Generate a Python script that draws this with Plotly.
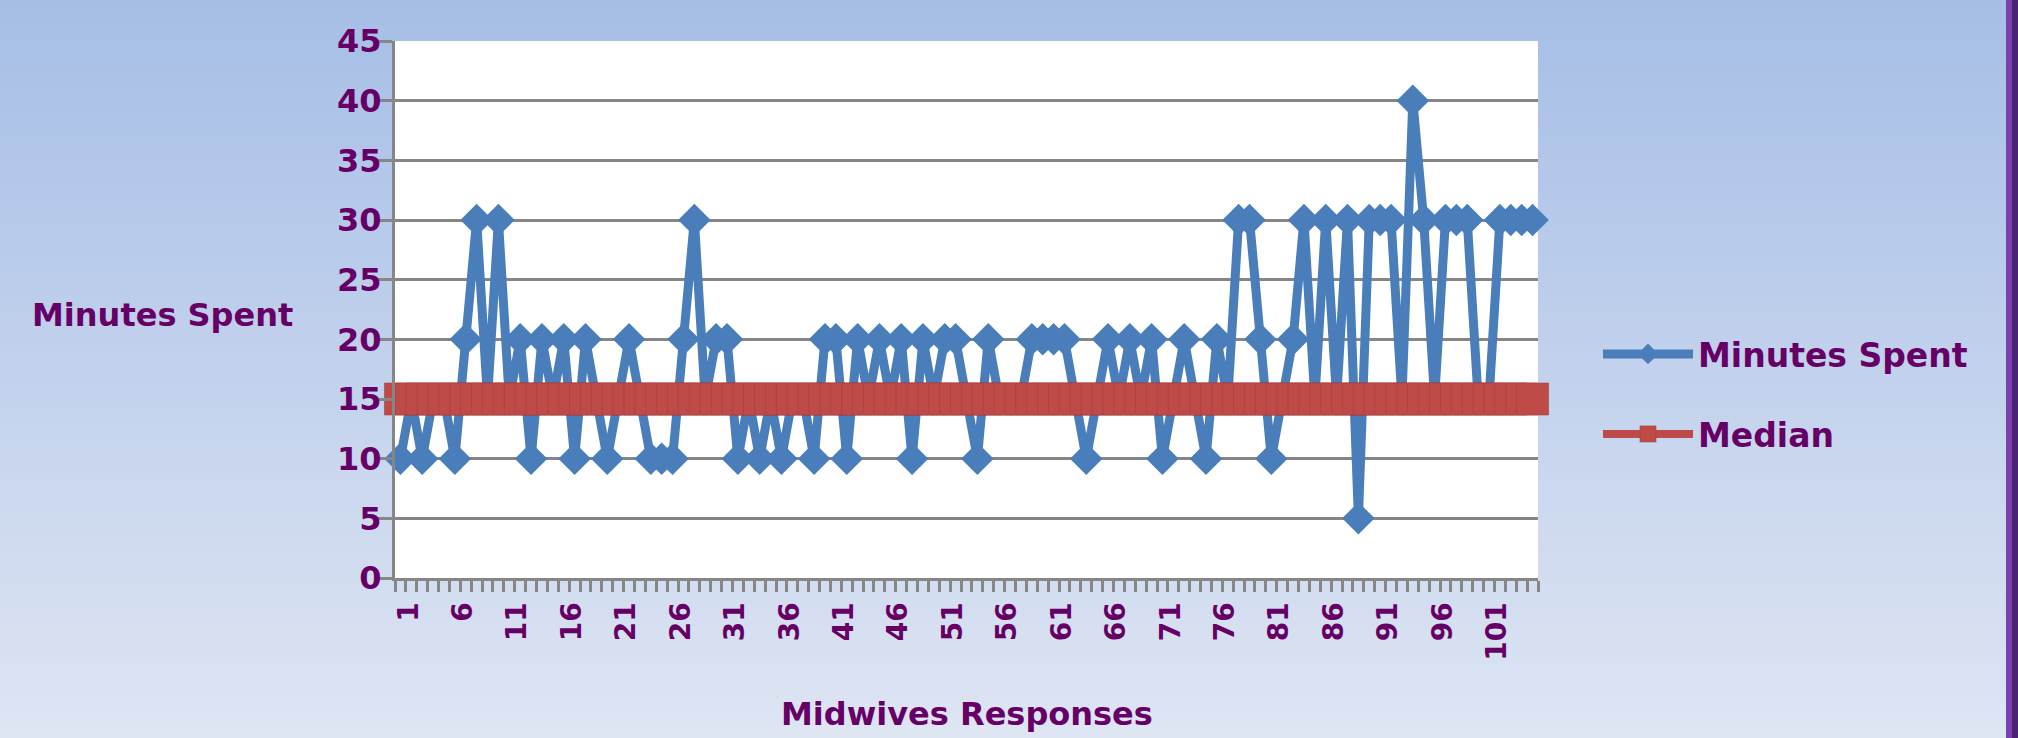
import plotly.graph_objects as go

# ---------------- data ----------------
responses = list(range(1, 106))
minutes_spent = [10, 15, 10, 15, 15, 10, 20, 30, 15, 30,
                 15, 20, 10, 20, 15, 20, 10, 20, 15, 10,
                 15, 20, 15, 10, 10, 10, 20, 30, 15, 20,
                 20, 10, 15, 10, 15, 10, 15, 15, 10, 20,
                 20, 10, 20, 15, 20, 15, 20, 10, 20, 15,
                 20, 20, 15, 10, 20, 15, 15, 15, 20, 20,
                 20, 20, 15, 10, 15, 20, 15, 20, 15, 20,
                 10, 15, 20, 15, 10, 20, 15, 30, 30, 20,
                 10, 15, 20, 30, 15, 30, 15, 30, 5, 30,
                 30, 30, 15, 40, 30, 15, 30, 30, 30, 15,
                 15, 30, 30, 30, 30]
median_value = [15, 15, 15, 15, 15, 15, 15, 15, 15, 15,
                15, 15, 15, 15, 15, 15, 15, 15, 15, 15,
                15, 15, 15, 15, 15, 15, 15, 15, 15, 15,
                15, 15, 15, 15, 15, 15, 15, 15, 15, 15,
                15, 15, 15, 15, 15, 15, 15, 15, 15, 15,
                15, 15, 15, 15, 15, 15, 15, 15, 15, 15,
                15, 15, 15, 15, 15, 15, 15, 15, 15, 15,
                15, 15, 15, 15, 15, 15, 15, 15, 15, 15,
                15, 15, 15, 15, 15, 15, 15, 15, 15, 15,
                15, 15, 15, 15, 15, 15, 15, 15, 15, 15,
                15, 15, 15, 15, 15]
x_tick_vals = [1, 6, 11, 16, 21, 26, 31, 36, 41, 46, 51, 56, 61, 66, 71, 76, 81, 86, 91, 96, 101]
x_tick_text = ["1", "6", "11", "16", "21", "26", "31", "36", "41", "46", "51",
               "56", "61", "66", "71", "76", "81", "86", "91", "96", "101"]

# ---------------- layout constants ----------------
W, H = 2018, 738
ML, MR, MT, MB = 395, 480, 41, 160
PW, PH = W - ML - MR, H - MT - MB


def px_x(px):
    return (px - ML) / PW


def px_y(py):
    return (H - MB - py) / PH


PURPLE = "#660066"
GRID = "#868686"
FONT = "DejaVu Sans"
BLUE = "#4a7ebb"
RED = "#be4b48"

fig = go.Figure()
fig.add_trace(go.Scatter(
    x=responses, y=minutes_spent, mode="lines+markers", name="Minutes Spent",
    line=dict(color=BLUE, width=9),
    marker=dict(symbol="diamond", size=25, color=BLUE),
    legend="legend", cliponaxis=False,
))
fig.add_trace(go.Scatter(
    x=responses, y=median_value, mode="lines+markers", name="Median",
    line=dict(color=RED, width=8),
    marker=dict(symbol="square", size=32, color=RED,
                line=dict(color="rgba(165,60,58,0.55)", width=1)),
    legend="legend2", cliponaxis=False,
))

# background gradient
shapes = []
top = (166, 190, 230)
bot = (222, 229, 243)
N = 60
for i in range(N):
    t = i / (N - 1)
    c = tuple(int(round(top[k] + (bot[k] - top[k]) * t)) for k in range(3))
    y0 = i * H / N
    y1 = (i + 1) * H / N + 1
    shapes.append(dict(type="rect", xref="paper", yref="paper", layer="below",
                       x0=px_x(0), x1=px_x(W), y0=px_y(y1), y1=px_y(y0),
                       line=dict(width=0), fillcolor="rgb(%d,%d,%d)" % c))
# right purple border
shapes.append(dict(type="rect", xref="paper", yref="paper", layer="below",
                   x0=px_x(2006), x1=px_x(2012), y0=px_y(H), y1=px_y(0),
                   line=dict(width=0), fillcolor="#7b3fae"))
shapes.append(dict(type="rect", xref="paper", yref="paper", layer="below",
                   x0=px_x(2012), x1=px_x(W), y0=px_y(H), y1=px_y(0),
                   line=dict(width=0), fillcolor="#4a2272"))
# white plot area
shapes.append(dict(type="rect", xref="x domain", yref="y domain", layer="below",
                   x0=0, x1=1, y0=0, y1=1, line=dict(width=0), fillcolor="white"))

ytickfont = dict(family=FONT, size=32, color=PURPLE, weight="bold")
xtickfont = dict(family=FONT, size=28, color=PURPLE, weight="bold")
legfont = dict(family=FONT, size=33, color=PURPLE, weight="bold")
titlefont = dict(family=FONT, size=32, color=PURPLE, weight="bold")

fig.update_layout(
    width=W, height=H,
    margin=dict(l=ML, r=MR, t=MT, b=MB, autoexpand=False),
    paper_bgcolor="#c4d2ec", plot_bgcolor="white",
    shapes=shapes,
    showlegend=True,
    legend=dict(x=px_x(1598), y=px_y(354), xanchor="left", yanchor="middle",
                bgcolor="rgba(0,0,0,0)", itemwidth=90, font=legfont),
    legend2=dict(x=px_x(1598), y=px_y(434), xanchor="left", yanchor="middle",
                 bgcolor="rgba(0,0,0,0)", itemwidth=90, font=legfont),
    xaxis=dict(
        range=[0.5, 105.5], showgrid=False, zeroline=False,
        showline=True, linecolor=GRID, linewidth=3,
        tickmode="array", tickvals=x_tick_vals, ticktext=x_tick_text,
        tickangle=-90, ticks="outside", ticklen=10, tickcolor="rgba(0,0,0,0)",
        tickfont=xtickfont, ticklabelshift=8,
        minor=dict(ticks="outside", tick0=0.5, dtick=1, ticklen=11,
                   tickwidth=3, tickcolor=GRID, showgrid=False),
    ),
    yaxis=dict(
        range=[0, 45], dtick=5, tick0=0, showgrid=True, gridcolor=GRID, gridwidth=2.5,
        zeroline=False, showline=True, linecolor=GRID, linewidth=3,
        ticks="outside", ticklen=15, tickwidth=3, tickcolor=GRID,
        tickfont=ytickfont, ticklabelstandoff=-11,
    ),
    annotations=[
        dict(text="Minutes Spent", xref="paper", yref="paper",
             x=px_x(30), y=px_y(315), xanchor="left", yanchor="middle", showarrow=False,
             font=titlefont),
        dict(text="Midwives Responses", xref="paper", yref="paper",
             x=0.5, y=px_y(714), xanchor="center", yanchor="middle", showarrow=False,
             font=titlefont),
    ],
)

fig.write_html("out.html",
               config={"displayModeBar": False},
               post_script="document.body.style.margin='0px';"
                           "document.body.style.overflow='hidden';")
